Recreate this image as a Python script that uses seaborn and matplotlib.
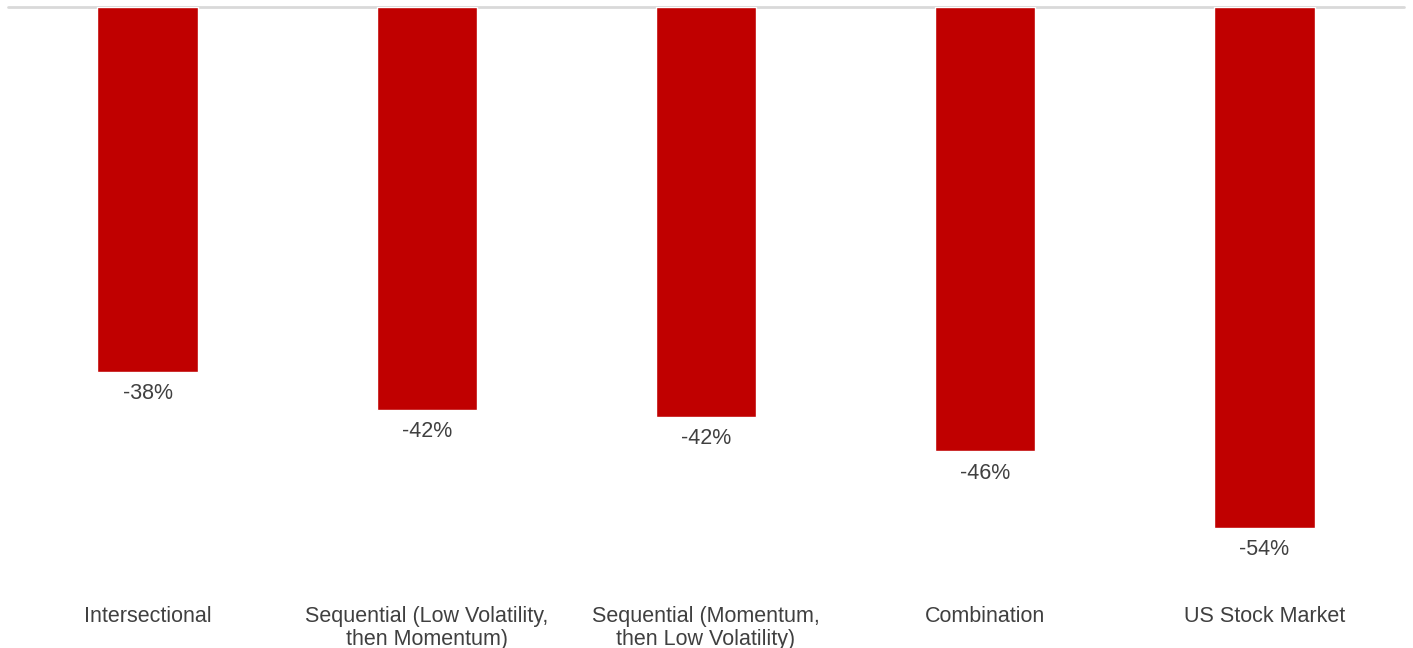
import matplotlib
matplotlib.use("Agg")
import matplotlib.pyplot as plt
import seaborn as sns
import pandas as pd

# data
categories = [
    "Intersectional",
    "Sequential (Low Volatility,\nthen Momentum)",
    "Sequential (Momentum,\nthen Low Volatility)",
    "Combination",
    "US Stock Market",
]
drawdown = [-38.0, -42.0, -42.7, -46.3, -54.3]
value_labels = ["-38%", "-42%", "-42%", "-46%", "-54%"]

df = pd.DataFrame({"strategy": categories, "drawdown": drawdown})

sns.set_style("white")
plt.rcParams["font.family"] = ["Liberation Sans", "DejaVu Sans"]

fig = plt.figure(figsize=(14.13, 6.48), dpi=100)
ax = fig.add_axes([8 / 1413, 0.1003, 1396 / 1413, 0.8889])

sns.barplot(data=df, x="strategy", y="drawdown", color="#C00000",
            saturation=1, width=0.36, ax=ax)

ax.set_xlim(-0.5, 4.5)
ax.set_ylim(-60, 0)
ax.axhline(0, color="#D9D9D9", lw=2, clip_on=False, zorder=0)

ax.bar_label(ax.containers[0], labels=value_labels, padding=8,
             fontsize=15.5, color="#404040")

ax.set_xlabel("")
ax.set_ylabel("")
ax.set_yticks([])
ax.tick_params(axis="x", length=0, pad=16.5, labelsize=15.5, labelcolor="#404040")
for lbl in ax.get_xticklabels():
    lbl.set_linespacing(1.12)
for s in ax.spines.values():
    s.set_visible(False)

fig.savefig("out.png", dpi=100)
